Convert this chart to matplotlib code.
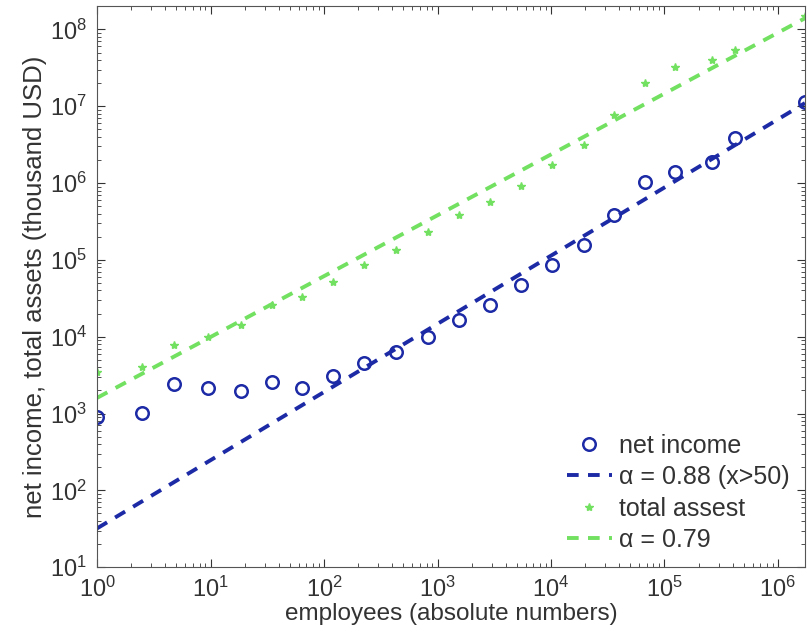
import matplotlib.pyplot as plt

plt.rcParams['font.family'] = ['Liberation Sans', 'DejaVu Sans']
plt.rcParams['mathtext.fontset'] = 'custom'
plt.rcParams['mathtext.rm'] = 'Liberation Sans'
plt.rcParams['mathtext.it'] = 'Liberation Sans:italic'

# employee bins (absolute numbers)
employees = [1, 2.5, 4.8, 9.5, 18.6, 34.8, 64, 120, 225, 431, 825, 1546, 2900,
             5440, 10200, 19500, 35900, 67300, 124000, 262000, 418000, 1.73e6]

# net income (thousand USD)
net_income = [898, 1010, 2415, 2140, 1950, 2570, 2140, 3100, 4580, 6300, 9900,
              16400, 25700, 46600, 85000, 155000, 380000, 1.02e6, 1.38e6,
              1.87e6, 3.9e6, 1.12e7]

# total assets (thousand USD)
total_assets = [3500, 4000, 7700, 9800, 14000, 25700, 33000, 51000, 85000,
                135000, 230000, 380000, 560000, 930000, 1.7e6, 3.1e6, 7.7e6,
                2.0e7, 3.2e7, 4.0e7, 5.4e7, 1.5e8]

# power-law fits (end points)
fit_x = [1, 1.73e6]
fit_income = [32, 1.1e7]
fit_assets = [1600, 1.4e8]

blue = '#1c2aa6'
green = '#72e060'
grey = '#333333'

fig = plt.figure(figsize=(8.09, 6.33), dpi=100)
ax = fig.add_axes([0.12, 0.104, 0.875, 0.886])

ax.plot(employees, net_income, 'o', mfc='none', mec=blue, mew=1.8, ms=9,
        label='net income')
ax.plot(fit_x, fit_income, '--', color=blue, lw=2.8, dashes=(3, 2.4),
        label='\u03b1 = 0.88 (x>50)')
ax.plot(employees, total_assets, '*', color=green, ms=6,
        label='total assest')
ax.plot(fit_x, fit_assets, '--', color=green, lw=2.8, dashes=(3, 2.4),
        label='\u03b1 = 0.79')

ax.set_xscale('log')
ax.set_yscale('log')
ax.set_xlim(1, 1.73e6)
ax.set_ylim(10, 2e8)

ax.tick_params(which='both', direction='in', top=True, right=True,
               labelsize=17, colors=grey)
ax.tick_params(axis='x', which='major', pad=7)
ax.tick_params(axis='y', which='major', pad=7)
ax.tick_params(which='major', length=6)
ax.tick_params(which='minor', length=3)
for s in ax.spines.values():
    s.set_color('#555555')

ax.set_xlabel('employees (absolute numbers)', fontsize=17.5, color=grey,
              labelpad=1)
ax.set_ylabel('net income, total assets (thousand USD)', fontsize=18.5,
              color=grey, labelpad=2)

leg = ax.legend(loc='lower right', frameon=False, fontsize=18,
                handlelength=1.8, handletextpad=0.3, labelspacing=0.3,
                borderaxespad=0.2)
for t in leg.get_texts():
    t.set_color(grey)

fig.savefig('out.png', dpi=100)
